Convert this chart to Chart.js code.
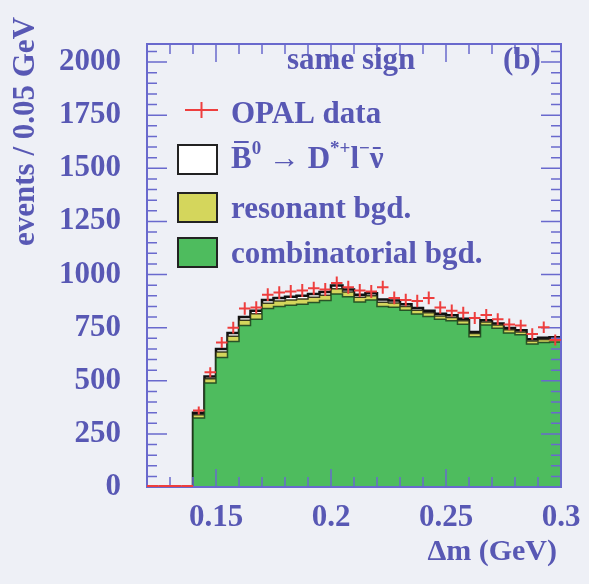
<!DOCTYPE html>
<html>
<head>
<meta charset="utf-8">
<script src="https://cdn.jsdelivr.net/npm/chart.js@4.4.1/dist/chart.umd.min.js"></script>
<style>
  html, body { margin: 0; padding: 0; background: #eef0f6; }
  #wrap { width: 589px; height: 584px; }
</style>
</head>
<body>
<div id="wrap"><canvas id="grafico" width="589" height="584"></canvas></div>
<script>
// bins of delta m (GeV), low edges
const binLow = [0.120, 0.125, 0.130, 0.135, 0.140, 0.145, 0.150, 0.155, 0.160, 0.165, 0.170, 0.175,
                0.180, 0.185, 0.190, 0.195, 0.200, 0.205, 0.210, 0.215, 0.220, 0.225, 0.230, 0.235,
                0.240, 0.245, 0.250, 0.255, 0.260, 0.265, 0.270, 0.275, 0.280, 0.285, 0.290, 0.295];
const binWidth = 0.005;

const combinatorial = [0, 0, 0, 0, 325, 490, 610, 685, 760, 790, 840, 850,
                       855, 860, 868, 878, 908, 896, 871, 880, 850, 846, 832, 814,
                       802, 789, 782, 766, 707, 762, 747, 725, 716, 673, 680, 683];
const resonant = [0, 0, 0, 0, 15, 20, 25, 25, 25, 25, 25, 25,
                  25, 25, 25, 25, 25, 22, 22, 20, 20, 20, 18, 18,
                  18, 16, 16, 16, 15, 15, 15, 15, 14, 14, 14, 14];
const signal = [0, 0, 0, 0, 10, 10, 15, 15, 15, 15, 15, 15,
                15, 15, 15, 15, 15, 12, 12, 12, 12, 12, 10, 10,
                10, 10, 10, 10, 8, 8, 8, 8, 8, 8, 8, 8];
const opalData = [0, 0, 0, 0, 360, 540, 680, 750, 840, 845, 905, 915,
                  920, 925, 935, 930, 960, 940, 925, 920, 940, 890, 880, 875,
                  890, 845, 830, 820, 795, 809, 790, 765, 760, 720, 752, 692];

const xTickValues = [0.15, 0.2, 0.25, 0.3];
const xTickLabels = ['0.15', '0.2', '0.25', '0.3'];
const yTickValues = [0, 250, 500, 750, 1000, 1250, 1500, 1750, 2000];
const yTickLabels = ['0', '250', '500', '750', '1000', '1250', '1500', '1750', '2000'];

const serif = '"Liberation Serif", "DejaVu Serif", serif';
const azul = 'rgb(88, 88, 180)';
const moldura = 'rgb(105, 105, 205)';
const verde = 'rgb(78, 188, 94)';
const amarelo = 'rgb(212, 214, 92)';
const vermelho = 'rgb(238, 62, 62)';

// stepped histogram: one point per low edge, plus the last upper edge
function degraus(valores) {
    const pts = binLow.map((x, i) => ({ x: x, y: valores[i] }));
    pts.push({ x: binLow[binLow.length - 1] + binWidth, y: valores[valores.length - 1] });
    return pts;
}

const molduraPlugin = {
    id: 'moldura',
    afterDatasetsDraw(chart) {
        const { ctx, chartArea: a, scales: { x, y } } = chart;
        ctx.save();

        // frame + inner ticks on all sides
        ctx.strokeStyle = moldura;
        ctx.lineWidth = 2;
        ctx.strokeRect(a.left, a.top, a.right - a.left, a.bottom - a.top);
        ctx.lineWidth = 1.5;
        ctx.beginPath();
        for (let k = 0; k <= 18; k++) {
            const v = 0.12 + k * 0.01;
            const px = x.getPixelForValue(v);
            const len = (Math.round(v * 100) % 5 === 0) ? 18 : 10;
            ctx.moveTo(px, a.bottom); ctx.lineTo(px, a.bottom - len);
            ctx.moveTo(px, a.top); ctx.lineTo(px, a.top + len);
        }
        for (let v = 0; v <= 2050; v += 50) {
            const py = y.getPixelForValue(v);
            const len = (v % 250 === 0) ? 20 : 10;
            ctx.moveTo(a.left, py); ctx.lineTo(a.left + len, py);
            ctx.moveTo(a.right, py); ctx.lineTo(a.right - len, py);
        }
        ctx.stroke();

        // error bars of the data
        const meta = chart.getDatasetMeta(3);
        ctx.strokeStyle = vermelho;
        ctx.lineWidth = 2;
        meta.data.forEach((pt, i) => {
            const v = opalData[i];
            const x1 = x.getPixelForValue(binLow[i]);
            const x2 = x.getPixelForValue(binLow[i] + binWidth);
            const e = Math.sqrt(v);
            const py = v > 0 ? pt.y : pt.y - 1;
            ctx.beginPath();
            ctx.moveTo(x1, py);
            ctx.lineTo(x2, py);
            if (v > 0) {
                ctx.moveTo(pt.x, y.getPixelForValue(v + e));
                ctx.lineTo(pt.x, y.getPixelForValue(v - e));
            }
            ctx.stroke();
        });
        ctx.restore();
    },
    afterDraw(chart) {
        const ctx = chart.ctx;
        ctx.save();
        ctx.fillStyle = azul;
        ctx.font = 'bold 31px ' + serif;
        ctx.textBaseline = 'alphabetic';
        ctx.textAlign = 'left';
        ctx.fillText('same sign', 287, 69);
        ctx.fillText('(b)', 503, 69);

        // legend
        ctx.fillText('OPAL data', 231, 123);
        ctx.fillText('resonant bgd.', 231, 218);
        ctx.fillText('combinatorial bgd.', 231, 263);

        // B0bar -> D*+ l- nubar
        let cx = 231;
        const base = 168;
        const partes = [
            { t: 'B', barra: true }, { t: '0', sup: true }, { t: ' \u2192 D' },
            { t: '*+', sup: true }, { t: 'l' }, { t: '\u2212', sup: true }, { t: '\u03bd', barra: true }
        ];
        partes.forEach(p => {
            ctx.font = (p.sup ? 'bold 19px ' : 'bold 31px ') + serif;
            const w = ctx.measureText(p.t).width;
            ctx.fillText(p.t, cx, p.sup ? base - 14 : base);
            if (p.barra) {
                ctx.fillRect(cx + 3, p.t === 'B' ? base - 27 : base - 21, w - 6, 2);
            }
            cx += w;
        });

        ctx.strokeStyle = vermelho;
        ctx.lineWidth = 2;
        ctx.beginPath();
        ctx.moveTo(185, 110); ctx.lineTo(218, 110);
        ctx.moveTo(201.5, 102); ctx.lineTo(201.5, 118);
        ctx.stroke();

        const caixas = [['#ffffff', 145], [amarelo, 193], [verde, 238]];
        caixas.forEach(([cor, top]) => {
            ctx.fillStyle = cor;
            ctx.fillRect(178, top, 39, 29);
            ctx.strokeStyle = '#222';
            ctx.lineWidth = 2;
            ctx.strokeRect(178, top, 39, 29);
        });

        // axis titles
        ctx.fillStyle = azul;
        ctx.font = 'bold 30px ' + serif;
        ctx.textAlign = 'right';
        ctx.fillText('\u0394m (GeV)', 557, 560);
        ctx.translate(34, 246);
        ctx.rotate(-Math.PI / 2);
        ctx.textAlign = 'left';
        ctx.font = 'bold 31px ' + serif;
        ctx.fillText('events / 0.05 GeV', 0, 0);
        ctx.restore();
    }
};

document.addEventListener("DOMContentLoaded", () => {
    const ctx = document.getElementById('grafico').getContext('2d');

    const serieMC = (label, valores, cor, borda, largura, fill) => ({
        label: label,
        data: degraus(valores),
        stepped: true,
        fill: fill,
        backgroundColor: cor,
        borderColor: borda,
        borderWidth: largura,
        pointRadius: 0,
        stack: 'mc'
    });

    new Chart(ctx, {
        type: 'line',
        data: {
            datasets: [
                serieMC('combinatorial bgd.', combinatorial, verde, 'rgba(30, 70, 30, 0.9)', 1.5, 'origin'),
                serieMC('resonant bgd.', resonant, amarelo, 'rgba(40, 40, 20, 0.9)', 1.5, '-1'),
                serieMC('signal', signal, '#ffffff', '#111111', 2.5, '-1'),
                {
                    label: 'OPAL data',
                    data: opalData.map((v, i) => ({ x: binLow[i] + binWidth / 2, y: v })),
                    showLine: false,
                    pointRadius: 0,
                    stack: 'data'
                }
            ]
        },
        options: {
            responsive: false,
            animation: false,
            layout: { padding: { top: 44, right: 28, left: 0, bottom: 0 } },
            plugins: { legend: { display: false }, tooltip: { enabled: false } },
            scales: {
                x: {
                    type: 'linear',
                    min: 0.12,
                    max: 0.30,
                    grid: { display: false },
                    border: { display: false },
                    afterBuildTicks: s => { s.ticks = xTickValues.map(v => ({ value: v })); },
                    afterFit: s => { s.height = 97; },
                    ticks: {
                        autoSkip: false,
                        maxRotation: 0,
                        padding: 4,
                        color: azul,
                        font: { family: serif, size: 31, weight: 'bold' },
                        callback: (v, i) => xTickLabels[i]
                    }
                },
                y: {
                    stacked: true,
                    min: 0,
                    max: 2085,
                    grid: { display: false },
                    border: { display: false },
                    afterBuildTicks: s => { s.ticks = yTickValues.map(v => ({ value: v })); },
                    afterFit: s => { s.width = 147; },
                    ticks: {
                        padding: 18,
                        color: azul,
                        font: { family: serif, size: 31, weight: 'bold' },
                        callback: (v, i) => yTickLabels[i]
                    }
                }
            }
        },
        plugins: [molduraPlugin]
    });
});
</script>
</body>
</html>
